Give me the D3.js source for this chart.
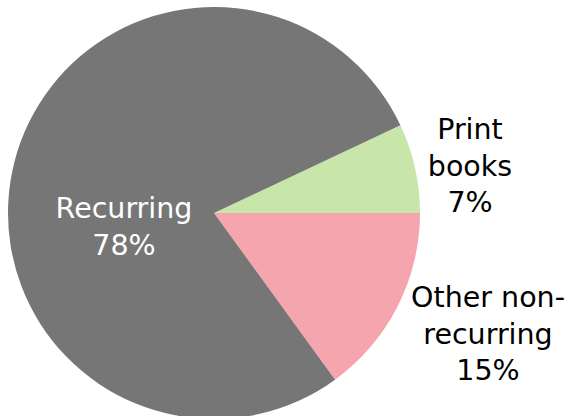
<!DOCTYPE html>
<html>
<head>
<meta charset="utf-8">
<script src="https://cdn.jsdelivr.net/npm/d3@7"></script>
<style>
  html, body { margin: 0; padding: 0; background: #fff; }
  svg text { font-family: "DejaVu Sans", sans-serif; }
</style>
</head>
<body>
<svg width="569" height="416"></svg>
<script>
// slice data, in drawing order (clockwise from the print books wedge)
var categories = ["Print books", "Other non-recurring", "Recurring"];
var shares = [7, 15, 78];
var labelLines = [["Print", "books", "7%"], ["Other non-", "recurring", "15%"], ["Recurring", "78%"]];
var colors = ["#c8e6aa", "#f5a5ae", "#767676"];
var textColors = ["#000", "#000", "#fff"];

var svg = d3.select("svg"),
    cx = 214,
    cy = 213,
    radius = 206;

var g = svg.append("g")
    .attr("transform", "translate(" + cx + "," + cy + ")");

// print books wedge ends at 3 o'clock
var start = Math.PI / 2 - 2 * Math.PI * shares[0] / d3.sum(shares);

var pie = d3.pie()
    .sort(null)
    .value(function(d) { return d; })
    .startAngle(start)
    .endAngle(start + 2 * Math.PI);

var arc = d3.arc().innerRadius(0).outerRadius(radius);

var arcs = pie(shares);

g.selectAll("path.slice")
  .data(arcs)
  .enter().append("path")
  .attr("class", "slice")
  .attr("d", arc)
  .attr("fill", function(d, i) { return colors[i]; });

// label anchors: x centre and first baseline, relative to pie centre
var labelPos = [[256, -74], [274, 94], [-90, 5]];
var fontSize = 28.5, lineH = 36.5;

var labels = g.selectAll("text.lbl")
  .data(arcs)
  .enter().append("text")
  .attr("class", "lbl")
  .attr("text-anchor", "middle")
  .attr("font-size", fontSize)
  .attr("fill", function(d, i) { return textColors[i]; })
  .attr("transform", function(d, i) {
      return "translate(" + labelPos[i][0] + "," + labelPos[i][1] + ")";
  });

labels.selectAll("tspan")
  .data(function(d, i) { return labelLines[i]; })
  .enter().append("tspan")
  .attr("x", 0)
  .attr("dy", function(d, j) { return j === 0 ? 0 : lineH; })
  .text(function(d) { return d; });
</script>
</body>
</html>
